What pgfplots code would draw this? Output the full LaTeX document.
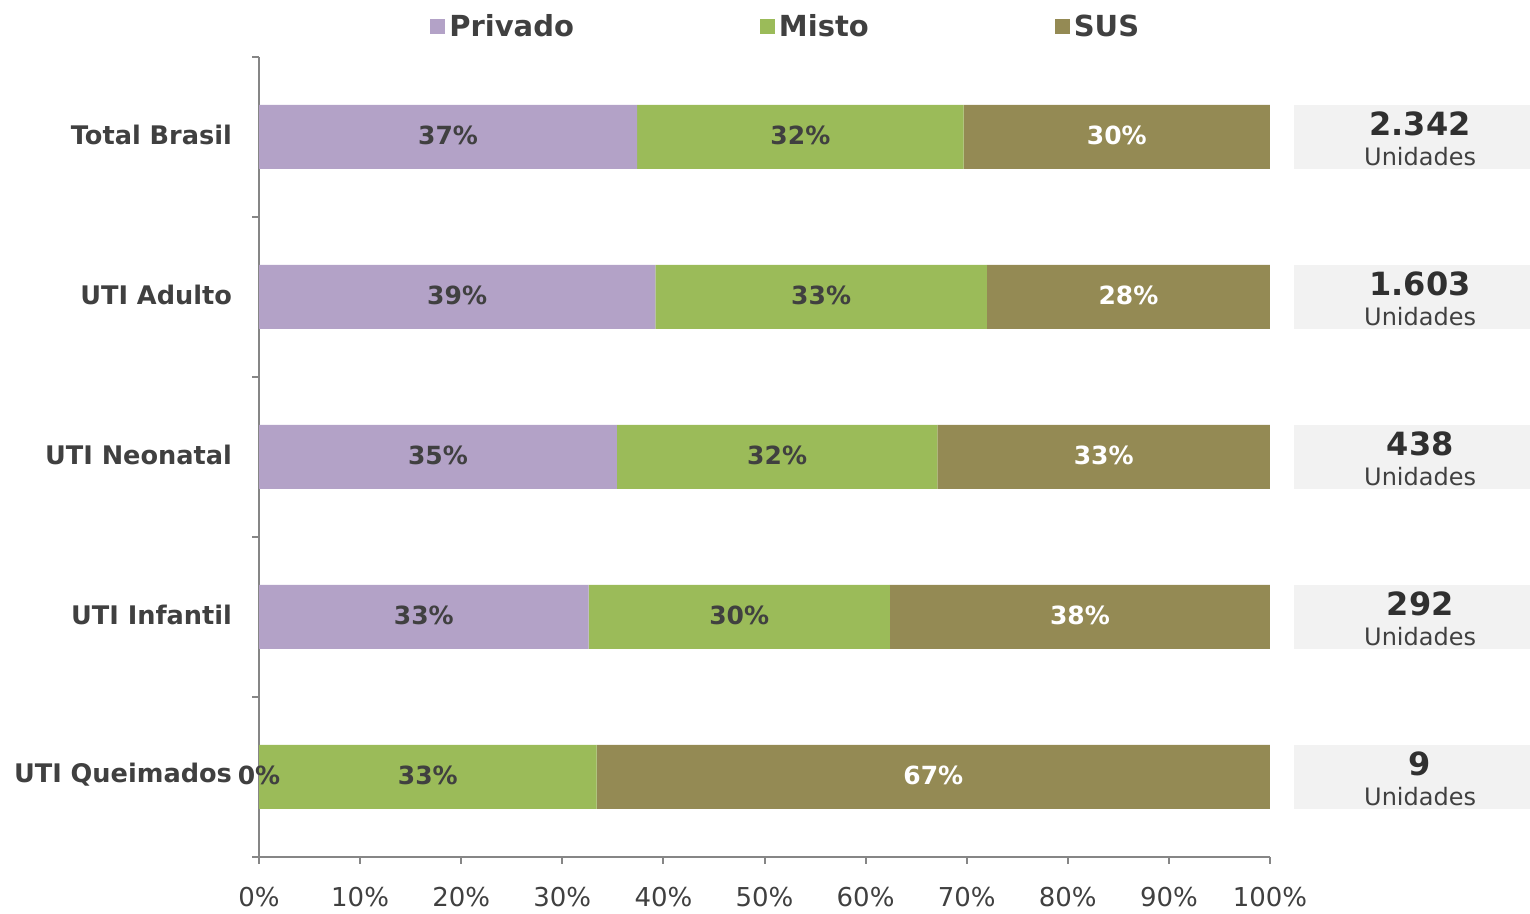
\documentclass[border=0pt]{standalone}
\usepackage{pgfplots}
\pgfplotsset{compat=1.18}
\usepackage{fontspec}
\setmainfont{DejaVu Sans}
\definecolor{privado}{HTML}{B3A2C7}
\definecolor{misto}{HTML}{9BBB59}
\definecolor{sus}{HTML}{948A54}
\definecolor{txt}{HTML}{404040}
\definecolor{numtxt}{HTML}{303030}
\definecolor{axgray}{HTML}{868686}
\definecolor{boxgray}{HTML}{F2F2F2}

\pgfplotsset{
  base/.style={scale only axis, width=505.5pt, height=400pt,
    xmin=0, xmax=100, ymin=0.5, ymax=5.5, clip=false},
}
\tikzset{
  barlbl/.style={font=\bfseries\fontsize{12.5}{15}\selectfont},
  boxnum/.style={anchor=base, inner sep=0pt, text=numtxt, font=\bfseries\fontsize{16}{18}\selectfont},
  boxuni/.style={anchor=base, inner sep=0pt, text=txt, font=\fontsize{12}{14}\selectfont},
}

\begin{document}
\begin{tikzpicture}[font=\fontsize{12.5}{15}\selectfont, text=txt]
\begin{axis}[base,
  xbar stacked, bar width=32pt,
  axis x line*=bottom, axis y line*=left,
  axis line style={-, draw=axgray, line width=1pt},
  tick style={draw=axgray, line width=1pt},
  tick align=outside, major tick length=3.5pt,
  xtick={0,10,...,100},
  xticklabel={\pgfmathprintnumber{\tick}\%},
  /pgf/number format/assume math mode=true,
  xticklabel style={font=\fontsize{13}{15}\selectfont, text=txt, yshift=-8pt},
  ytick={0.5,1.5,2.5,3.5,4.5,5.5}, yticklabels={},
  extra y ticks={1,2,3,4,5},
  extra y tick labels={UTI Queimados, UTI Infantil, UTI Neonatal, UTI Adulto, Total Brasil},
  extra y tick style={major tick length=0pt,
    yticklabel style={font=\bfseries\fontsize{12.8}{15}\selectfont, text=txt, xshift=-10pt, yshift=1pt}},
  legend columns=3,
  legend style={at={(0.522,1.0375)}, anchor=center, draw=none, fill=none,
    font=\bfseries\fontsize{14.5}{17}\selectfont, text=txt,
    /tikz/every even column/.append style={column sep=91pt}},
  legend image code/.code={\fill[#1, draw=none] (-1.5pt,-3.75pt) rectangle (6pt,3.75pt);},
]
\addplot[fill=privado, draw=none] coordinates {(37.4,5) (39.2,4) (35.4,3) (32.6,2) (0,1)};
\addplot[fill=misto, draw=none] coordinates {(32.3,5) (32.8,4) (31.7,3) (29.8,2) (33.4,1)};
\addplot[fill=sus, draw=none] coordinates {(30.3,5) (28.0,4) (32.9,3) (37.6,2) (66.6,1)};
\legend{Privado, Misto, SUS}

% caixas com o total de unidades
\fill[boxgray] (axis cs:102.37,4.8) rectangle (axis cs:125.72,5.2);
\fill[boxgray] (axis cs:102.37,3.8) rectangle (axis cs:125.72,4.2);
\fill[boxgray] (axis cs:102.37,2.8) rectangle (axis cs:125.72,3.2);
\fill[boxgray] (axis cs:102.37,1.8) rectangle (axis cs:125.72,2.2);
\fill[boxgray] (axis cs:102.37,0.8) rectangle (axis cs:125.72,1.2);

\path (axis cs:-25.62,0.169) rectangle (axis cs:125.72,5.856);
\end{axis}

% rótulos percentuais no centro de cada segmento e totais
\begin{axis}[base, hide axis,
  nodes near coords={\pgfplotspointmeta\%},
  point meta=explicit symbolic,
  every node near coord/.append style={anchor=center, barlbl, text=txt, yshift=1pt},
]
\addplot[only marks, mark=*, mark size=0pt, mark options={draw=none, fill=none}]
  coordinates {(18.7,5)[37] (19.6,4)[39] (17.7,3)[35] (16.3,2)[33] (0,1)[0]};
\addplot[only marks, mark=*, mark size=0pt, mark options={draw=none, fill=none}]
  coordinates {(53.55,5)[32] (55.6,4)[33] (51.25,3)[32] (47.5,2)[30] (16.7,1)[33]};
\addplot[only marks, mark=*, mark size=0pt, mark options={draw=none, fill=none},
  every node near coord/.append style={text=white}]
  coordinates {(84.85,5)[30] (86.0,4)[28] (83.55,3)[33] (81.2,2)[38] (66.7,1)[67]};

\node[boxnum] at (axis cs:114.85,5.006) {2.342};
\node[boxuni] at (axis cs:114.85,4.819) {Unidades};
\node[boxnum] at (axis cs:114.85,4.006) {1.603};
\node[boxuni] at (axis cs:114.85,3.819) {Unidades};
\node[boxnum] at (axis cs:114.85,3.006) {438};
\node[boxuni] at (axis cs:114.85,2.819) {Unidades};
\node[boxnum] at (axis cs:114.85,2.006) {292};
\node[boxuni] at (axis cs:114.85,1.819) {Unidades};
\node[boxnum] at (axis cs:114.85,1.006) {9};
\node[boxuni] at (axis cs:114.85,0.819) {Unidades};
\end{axis}
\end{tikzpicture}
\end{document}
